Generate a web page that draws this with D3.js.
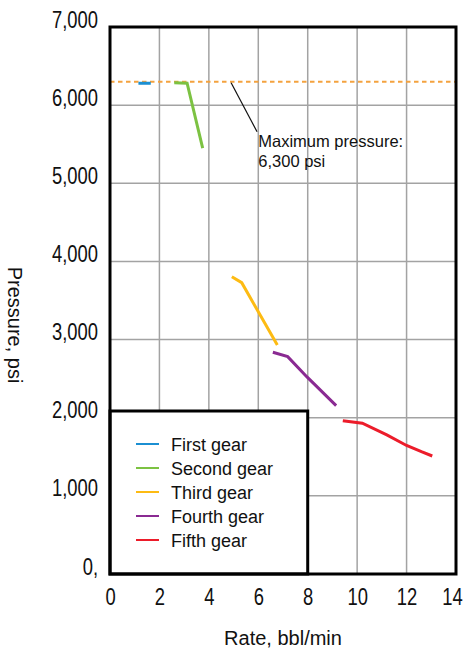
<!DOCTYPE html>
<html>
<head>
<meta charset="utf-8">
<script src="https://cdn.jsdelivr.net/npm/d3@7"></script>
<style>
  html, body { margin: 0; padding: 0; background: #fff; }
  svg { display: block; }
  text { font-family: "Liberation Sans", Arial, sans-serif; fill: #111; }
</style>
</head>
<body>
<svg id="chart" width="463" height="650"></svg>
<script>
// ---- data ----
const xTicks = [0, 2, 4, 6, 8, 10, 12, 14];
const yTicks = [0, 1000, 2000, 3000, 4000, 5000, 6000, 7000];
const yTickLabels = ["0,", "1,000", "2,000", "3,000", "4,000", "5,000", "6,000", "7,000"];
const seriesNames = ["First gear", "Second gear", "Third gear", "Fourth gear", "Fifth gear"];
const seriesColors = ["#1b8fd2", "#7cc242", "#fdbb13", "#8a2a92", "#ec1c2a"];
const firstGear  = [[1.15, 6280], [1.65, 6280]];
const secondGear = [[2.6, 6285], [3.12, 6280], [3.75, 5450]];
const thirdGear  = [[4.93, 3805], [5.33, 3728], [6.77, 2931]];
const fourthGear = [[6.59, 2837], [7.19, 2781], [7.96, 2525], [9.15, 2154]];
const fifthGear  = [[9.42, 1962], [10.21, 1929], [11.2, 1780], [12.0, 1645], [12.6, 1565], [13.04, 1510]];
const maxPressure = 6300;
const annotationLines = ["Maximum pressure:", "6,300 psi"];
const xTitle = "Rate, bbl/min";
const yTitle = "Pressure, psi";

const seriesData = [firstGear, secondGear, thirdGear, fourthGear, fifthGear];

// ---- layout ----
const svg = d3.select("#chart");
const L = 110, T = 27, R = 456, B = 574;
const x = d3.scaleLinear().domain([0, 14]).range([L, R]);
const y = d3.scaleLinear().domain([0, 7000]).range([B, T]);
const SX = 0.8; // horizontal condensing of tick numerals

// grid
const grid = svg.append("g").attr("stroke", "#a3a3a3").attr("stroke-width", 1.5);
grid.selectAll("line.v").data(xTicks.slice(1, -1)).join("line")
  .attr("x1", d => x(d)).attr("x2", d => x(d)).attr("y1", T).attr("y2", B);
grid.selectAll("line.h").data(yTicks.slice(1, -1)).join("line")
  .attr("x1", L).attr("x2", R).attr("y1", d => y(d)).attr("y2", d => y(d));

// max pressure dashed line
svg.append("line")
  .attr("x1", L).attr("x2", R).attr("y1", y(maxPressure)).attr("y2", y(maxPressure))
  .attr("stroke", "#f4a23f").attr("stroke-width", 2).attr("stroke-dasharray", "4.5,3.5");

// series lines
const line = d3.line().x(d => x(d[0])).y(d => y(d[1]));
svg.append("g").selectAll("path").data(seriesData).join("path")
  .attr("d", line)
  .attr("fill", "none")
  .attr("stroke", (d, i) => seriesColors[i])
  .attr("stroke-width", 3)
  .attr("stroke-linejoin", "miter");

// annotation
svg.append("line")
  .attr("x1", x(4.9)).attr("y1", y(maxPressure) + 1)
  .attr("x2", x(5.95)).attr("y2", y(5660))
  .attr("stroke", "#111").attr("stroke-width", 1.2);
const ann = svg.append("text").attr("x", x(6.0)).attr("y", 147).attr("font-size", 16.5);
ann.selectAll("tspan").data(annotationLines).join("tspan")
  .attr("x", x(6.0)).attr("dy", (d, i) => i === 0 ? 0 : 20).text(d => d);

// legend box
const lg = svg.append("g");
lg.append("rect")
  .attr("x", L).attr("y", 411).attr("width", x(8) - L).attr("height", B - 411)
  .attr("fill", "#fff").attr("stroke", "#000").attr("stroke-width", 3);
const items = lg.selectAll("g.item").data(seriesNames).join("g")
  .attr("transform", (d, i) => `translate(0, ${444 + i * 24})`);
items.append("line").attr("x1", 136).attr("x2", 159).attr("y1", 0).attr("y2", 0)
  .attr("stroke", (d, i) => seriesColors[i]).attr("stroke-width", 2);
items.append("text").attr("x", 171).attr("y", 7).attr("font-size", 18).text(d => d);

// frame
svg.append("rect").attr("x", L).attr("y", T).attr("width", R - L).attr("height", B - T)
  .attr("fill", "none").attr("stroke", "#000").attr("stroke-width", 3);

// axes tick labels via d3 axes
const yAxis = d3.axisLeft(y).tickValues(yTicks).tickSize(0).tickPadding(12)
  .tickFormat((d, i) => yTickLabels[i]);
const gy = svg.append("g").attr("transform", `translate(${L},0)`).call(yAxis);
gy.select(".domain").remove();
gy.selectAll("text")
  .attr("font-size", 23).attr("font-family", "Liberation Sans, Arial, sans-serif")
  .attr("fill", "#111")
  .attr("x", -12 / SX).attr("dy", 0)
  .attr("transform", `scale(${SX},1)`);

const xAxis = d3.axisBottom(x).tickValues(xTicks).tickSize(0).tickPadding(0)
  .tickFormat(d3.format("d"));
const gx = svg.append("g").attr("transform", `translate(0,${B})`).call(xAxis);
gx.select(".domain").remove();
gx.selectAll("text")
  .attr("font-size", 23).attr("font-family", "Liberation Sans, Arial, sans-serif")
  .attr("fill", "#111")
  .attr("y", 31).attr("dy", 0)
  .attr("x", (d, i) => (i === xTicks.length - 1 ? -4 : 0) / SX)
  .attr("transform", `scale(${SX},1)`);

// axis titles
svg.append("text").attr("x", (L + R) / 2).attr("y", 645).attr("text-anchor", "middle")
  .attr("font-size", 20).text(xTitle);
svg.append("text").attr("transform", "translate(8,325) rotate(90)")
  .attr("text-anchor", "middle").attr("font-size", 20).text(yTitle);
</script>
</body>
</html>
